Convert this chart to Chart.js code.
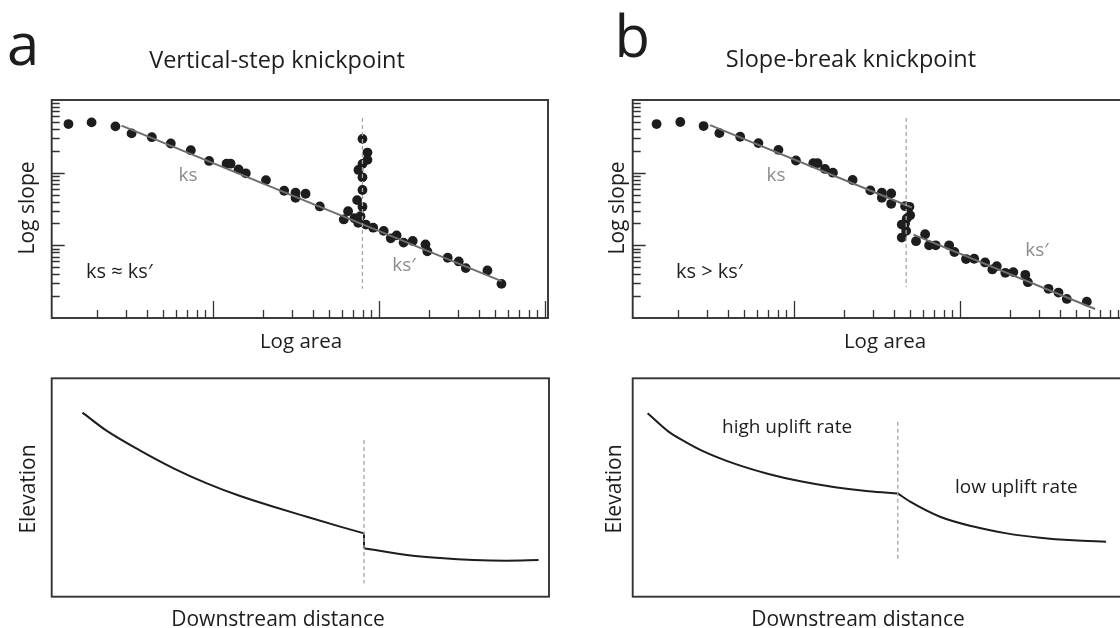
<!DOCTYPE html>
<html>
<head>
<meta charset="utf-8">
<script src="https://cdn.jsdelivr.net/npm/chart.js@4.4.1/dist/chart.umd.min.js"></script>
<style>
  body { margin: 0; width: 1120px; height: 628px; overflow: hidden; background: #fff; position: relative; }
  canvas { position: absolute; }
</style>
</head>
<body>
<canvas id="slopeA" width="580" height="360" style="left:0;top:0"></canvas>
<canvas id="slopeB" width="560" height="360" style="left:580px;top:0"></canvas>
<canvas id="profileA" width="580" height="268" style="left:0;top:360px"></canvas>
<canvas id="profileB" width="560" height="268" style="left:580px;top:360px"></canvas>
<script>
// --- a: vertical-step knickpoint, slope-area points ---
const areaA = [1.35, 1.86, 2.59, 3.24, 4.29, 5.58, 7.37, 9.5, 12.1, 12.8, 14.3, 15.8, 20.9, 26.9, 31.5, 31.5,
  36.2, 44.1, 61.5, 65.3, 71.3, 74.0, 75.1, 77.5, 79.7, 79.7, 79.7, 75.4, 79.7, 85.4, 85.4, 79.7,
  83.5, 92.5, 107, 118, 128, 141, 160, 191, 196, 260, 303, 334, 451, 548];
const slopeA = [0.467, 0.492, 0.434, 0.347, 0.308, 0.252, 0.204, 0.145, 0.133, 0.133, 0.111, 0.098, 0.079, 0.0564, 0.053, 0.0452,
  0.0513, 0.0343, 0.0227, 0.0295, 0.0236, 0.0419, 0.0204, 0.0252, 0.0339, 0.0577, 0.0863, 0.109, 0.132, 0.150, 0.189, 0.292,
  0.0193, 0.0175, 0.0158, 0.0125, 0.0137, 0.0109, 0.0115, 0.0103, 0.00826, 0.00675, 0.0060, 0.00486, 0.00451, 0.00295];
const fitAreaA = [2.82, 548];
const fitSlopeA = [0.443, 0.00321];
const knickAreaA = 79.7;
const knickSlopeA = [0.565, 0.00252];

// --- b: slope-break knickpoint, slope-area points ---
const areaB = [1.49, 2.07, 2.86, 3.56, 4.75, 6.12, 8.08, 10.3, 13.1, 13.9, 15.4, 17.2, 22.6, 28.9, 33.9, 33.9,
  38.6, 38.6, 46.8, 49.7, 50.2, 47.9, 46.8, 44.7, 47.5, 44.7, 54.5, 61.8, 65.3, 71.6, 86.2, 92.8,
  109, 122, 142, 157, 167, 188, 210, 248, 257, 342, 393, 441, 582];
const slopeB = [0.467, 0.498, 0.438, 0.350, 0.312, 0.255, 0.206, 0.147, 0.135, 0.135, 0.1125, 0.100, 0.0793, 0.057, 0.053, 0.0452,
  0.0518, 0.0373, 0.0346, 0.0339, 0.026, 0.0234, 0.0199, 0.0193, 0.0158, 0.0128, 0.0114, 0.0142, 0.0100, 0.0100, 0.0100, 0.00809,
  0.00647, 0.00654, 0.00582, 0.00466, 0.00518, 0.00419, 0.00428, 0.00393, 0.00311, 0.00252, 0.00224, 0.00183, 0.00168];
const fitAreaB = [3.13, 51.4];
const fitSlopeB = [0.452, 0.0332];
const fitAreaB2 = [52.6, 653];
const fitSlopeB2 = [0.01404, 0.00133];
const knickAreaB = 47.5;
const knickSlopeB = [0.565, 0.00265];

// --- long profiles (arbitrary units 0-100) ---
const upDistA = [6.2, 11.1, 17.8, 24.5, 31.2, 37.9, 44.6, 51.3, 58.0, 62.8];
const upElevA = [84.3, 75.9, 66.9, 58.8, 51.9, 46.1, 41.2, 36.6, 32.1, 29.0];
const downDistA = [62.8, 71.4, 78.1, 84.8, 91.5, 97.9];
const downElevA = [22.2, 19.1, 17.7, 16.8, 16.5, 16.8];
const knickDistA = 62.8;
const knickElevA = [71.8, 6.1];

const upDistB = [3.0, 7.2, 10.5, 13.9, 20.6, 27.3, 34.0, 40.7, 47.4, 53.3];
const upElevB = [84.0, 75.6, 71.0, 66.9, 60.8, 56.2, 52.7, 50.1, 48.3, 47.3];
const downDistB = [53.3, 55.8, 61.8, 68.5, 75.2, 81.9, 88.6, 95.2];
const downElevB = [47.3, 43.5, 36.6, 32.1, 29.0, 27.0, 25.8, 25.2];
const knickDistB = 53.3;
const knickElevB = [80.1, 16.0];

const INK = '#1f1c1d';
const GREY = '#8c8c8c';
const FONT = '"Open Sans", sans-serif';

const pts = (xs, ys) => xs.map((x, i) => ({x, y: ys[i]}));
const isDecade = v => Math.abs(Math.log10(v) - Math.round(Math.log10(v))) < 1e-6;

// 1..9 x 10^n inside the axis range
function logTicks(scale) {
  const out = [];
  for (let e = Math.floor(Math.log10(scale.min)); e <= Math.ceil(Math.log10(scale.max)); e++) {
    for (let m = 1; m < 10; m++) {
      const v = +(m * Math.pow(10, e)).toPrecision(6);
      if (v > scale.min && v < scale.max) out.push({value: v});
    }
  }
  scale.ticks = out;
}

// frame, inward log ticks and all the text of a panel
const panelDecor = {
  id: 'panelDecor',
  afterDraw(chart, args, opts) {
    const {ctx, chartArea: a} = chart;
    ctx.save();
    ctx.strokeStyle = '#333';
    if (opts.logTicks) {
      ctx.lineWidth = 1.3;
      const xs = chart.scales.x, ys = chart.scales.y;
      ctx.beginPath();
      xs.ticks.forEach(t => {
        const px = Math.round(xs.getPixelForValue(t.value)) + 0.5;
        ctx.moveTo(px, a.bottom);
        ctx.lineTo(px, a.bottom - (isDecade(t.value) ? 17 : 8));
      });
      ys.ticks.forEach(t => {
        const py = Math.round(ys.getPixelForValue(t.value)) + 0.5;
        ctx.moveTo(a.left, py);
        ctx.lineTo(a.left + (isDecade(t.value) ? 13 : 8), py);
      });
      ctx.stroke();
    }
    ctx.lineWidth = 1.9;
    ctx.strokeRect(a.left, a.top, a.right - a.left, a.bottom - a.top);

    const [ox, oy] = opts.origin;
    (opts.texts || []).forEach(s => {
      ctx.save();
      ctx.fillStyle = s.color || INK;
      ctx.font = `${s.size}px ${FONT}`;
      ctx.textAlign = s.align || 'center';
      ctx.textBaseline = 'alphabetic';
      ctx.translate(s.x - ox, s.y - oy);
      if (s.rot) ctx.rotate(-Math.PI / 2);
      ctx.fillText(s.t, 0, 0);
      ctx.restore();
    });
    ctx.restore();
  }
};
Chart.register(panelDecor);

function baseOptions(pad, xScale, yScale, decor) {
  return {
    responsive: false,
    animation: false,
    events: [],
    layout: {padding: pad, autoPadding: false},
    scales: {
      x: Object.assign({display: false, ticks: {display: false, autoSkip: false}}, xScale),
      y: Object.assign({display: false, ticks: {display: false, autoSkip: false}}, yScale)
    },
    plugins: {legend: {display: false}, tooltip: {enabled: false}, panelDecor: decor}
  };
}

const dots = (xs, ys) => ({data: pts(xs, ys), pointRadius: 4.9, pointBackgroundColor: INK, pointBorderWidth: 0, showLine: false});
const fit = (xs, ys) => ({data: pts(xs, ys), borderColor: '#6e6e6e', borderWidth: 2, pointRadius: 0, showLine: true});
const dash = (x, ys) => ({data: pts([x, x], ys), borderColor: '#a6a6a6', borderWidth: 1.3, borderDash: [4, 3], pointRadius: 0, showLine: true});
const profile = (xs, ys) => ({data: pts(xs, ys), borderColor: INK, borderWidth: 2, pointRadius: 0, showLine: true, cubicInterpolationMode: 'monotone'});

const logX = {type: 'logarithmic', min: 1.07, max: 1045, afterBuildTicks: logTicks};
const logY = {type: 'logarithmic', min: 0.001, max: 1, afterBuildTicks: logTicks};
const linX = {type: 'linear', min: 0, max: 100};
const linY = {type: 'linear', min: 0, max: 100};

new Chart(document.getElementById('slopeA'), {
  type: 'scatter',
  data: {datasets: [dash(knickAreaA, knickSlopeA), fit(fitAreaA, fitSlopeA), dots(areaA, slopeA)]},
  options: baseOptions({left: 51.7, right: 32, top: 100, bottom: 42}, logX, logY, {
    logTicks: true, origin: [0, 0],
    texts: [
      {t: 'a', x: 7, y: 65, size: 58, align: 'left'},
      {t: 'Vertical-step knickpoint', x: 277, y: 68, size: 23.5},
      {t: 'Log slope', x: 34, y: 208, size: 21, rot: true},
      {t: 'Log area', x: 301, y: 348, size: 20.5},
      {t: 'ks', x: 188, y: 181, size: 19, color: GREY},
      {t: 'ks\u2032', x: 404, y: 271, size: 19, color: GREY},
      {t: 'ks \u2248 ks\u2032', x: 86, y: 278, size: 20, align: 'left'}
    ]
  })
});

new Chart(document.getElementById('slopeB'), {
  type: 'scatter',
  data: {datasets: [dash(knickAreaB, knickSlopeB), fit(fitAreaB, fitSlopeB), fit(fitAreaB2, fitSlopeB2), dots(areaB, slopeB)]},
  options: baseOptions({left: 52.7, right: 11, top: 100, bottom: 42}, logX, logY, {
    logTicks: true, origin: [580, 0],
    texts: [
      {t: 'b', x: 650, y: 57, size: 58, align: 'right'},
      {t: 'Slope-break knickpoint', x: 851, y: 67, size: 23.5},
      {t: 'Log slope', x: 624, y: 208, size: 21, rot: true},
      {t: 'Log area', x: 885, y: 348, size: 20.5},
      {t: 'ks', x: 776, y: 181, size: 19, color: GREY},
      {t: 'ks\u2032', x: 1037, y: 256, size: 19, color: GREY},
      {t: 'ks > ks\u2032', x: 676, y: 278, size: 20, align: 'left'}
    ]
  })
});

new Chart(document.getElementById('profileA'), {
  type: 'scatter',
  data: {datasets: [
    dash(knickDistA, knickElevA),
    profile(upDistA, upElevA),
    profile([knickDistA, knickDistA], [upElevA[upElevA.length - 1], downElevA[0]]),
    profile(downDistA, downElevA)
  ]},
  options: baseOptions({left: 51.7, right: 31, top: 18.3, bottom: 31.3}, linX, linY, {
    origin: [0, 360],
    texts: [
      {t: 'Elevation', x: 35, y: 489, size: 21, rot: true},
      {t: 'Downstream distance', x: 278, y: 626, size: 21}
    ]
  })
});

new Chart(document.getElementById('profileB'), {
  type: 'scatter',
  data: {datasets: [
    dash(knickDistB, knickElevB),
    profile(upDistB, upElevB),
    profile(downDistB, downElevB)
  ]},
  options: baseOptions({left: 52.7, right: 10, top: 18.3, bottom: 31.3}, linX, linY, {
    origin: [580, 360],
    texts: [
      {t: 'Elevation', x: 621, y: 489, size: 21, rot: true},
      {t: 'Downstream distance', x: 858, y: 626, size: 21},
      {t: 'high uplift rate', x: 722, y: 433, size: 19, align: 'left'},
      {t: 'low uplift rate', x: 955, y: 493, size: 19, align: 'left'}
    ]
  })
});
</script>
</body>
</html>
